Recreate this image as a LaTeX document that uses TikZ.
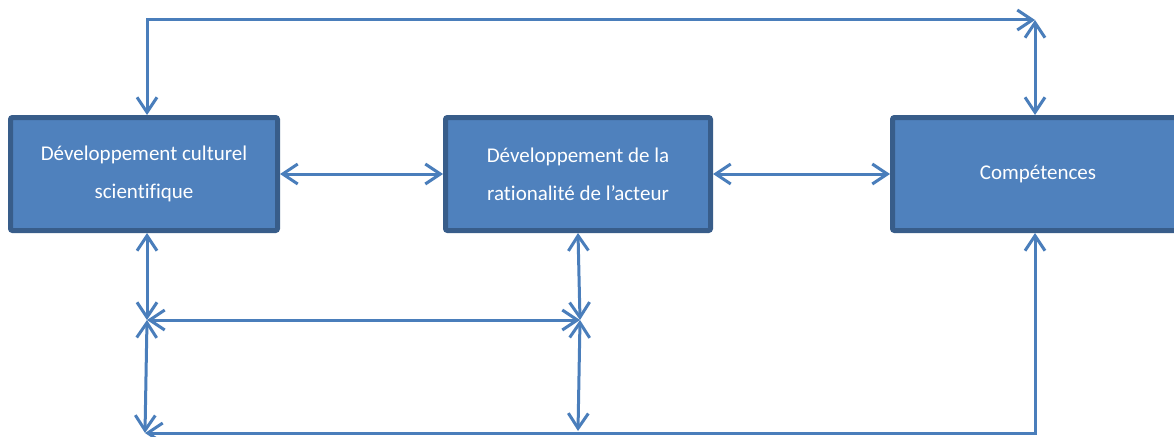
\documentclass[tikz,border=0pt]{standalone}
\usepackage{fontspec}
\setmainfont[Ligatures=NoCommon]{Carlito}
\usetikzlibrary{arrows.meta}
\definecolor{boxfill}{HTML}{4F81BD}
\definecolor{boxline}{HTML}{385D8A}
\definecolor{linkcol}{HTML}{4A7EBB}
\begin{document}
\begin{tikzpicture}[x=1pt, y=-1pt,
	main/.style = {draw=boxline, fill=boxfill, line width=5pt, rounded corners=2pt, minimum height=113pt, text=white, align=center, font=\fontsize{21}{38}\selectfont},
	link/.style = {draw=linkcol, line width=3pt, >={Straight Barb[length=15pt,width=20pt]}, <->}]
			\useasboundingbox (0,0) rectangle (1174,436);
			\node[main, minimum width=267pt] (1) at (144,174) {Développement culturel\\scientifique};
			\node[main, minimum width=265pt] (2) at (578,174) {Développement de la\\rationalité de l’acteur};
			\node[main, minimum width=291pt] (3) at (1038,174) {Compétences};
			\coordinate (4) at (1035,20);
			\coordinate (5) at (147,320);
			\coordinate (6) at (580,320);
			\coordinate (7) at (145,433);
			\coordinate (8) at (578,431);
			\draw[link] ([xshift=3pt]1.north) |- (4);
			\draw[link] (4) -- (4 |- 3.north);
			\draw[link] (1) -- (2);
			\draw[link] (2) -- (3);
			\draw[link] (5 |- 1.south) -- (5);
			\draw[link] (2.south) -- (6);
			\draw[link] (5) -- (6);
			\draw[link] (5) -- (7);
			\draw[link] (6) -- (8);
			\draw[link] (7) -| (4 |- 3.south);
		\end{tikzpicture}
\end{document}
